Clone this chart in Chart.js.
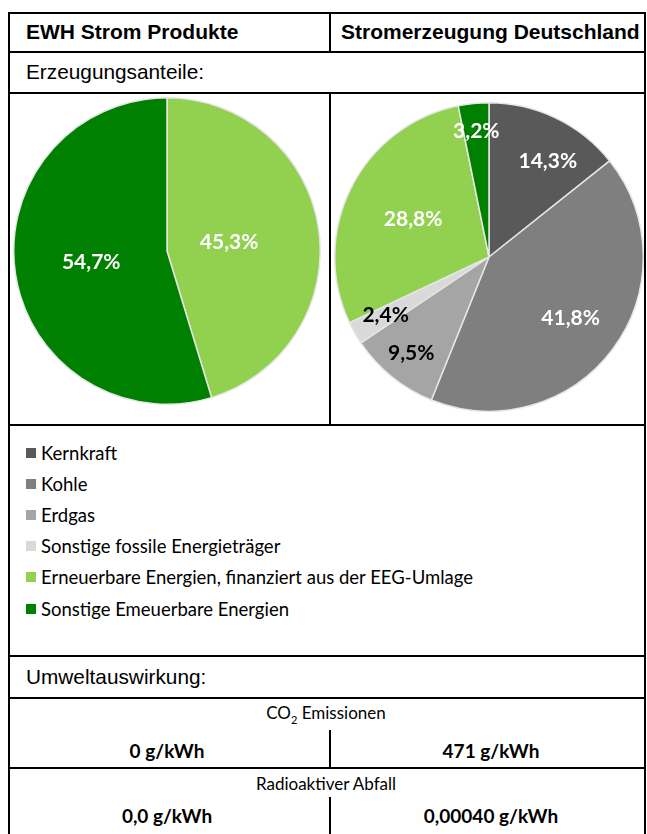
<!DOCTYPE html>
<html>
<head>
<meta charset="utf-8">
<script src="https://cdn.jsdelivr.net/npm/chart.js@4"></script>
<style>
  body { margin: 0; background: #fff; width: 647px; height: 834px; overflow: hidden; position: relative; }
  .ln { position: absolute; background: #000; }
  .t { position: absolute; white-space: nowrap; color: #000; }
  .hd { font: bold 21px "Liberation Sans", Arial, sans-serif; }
  .lab { font: 20.8px "Liberation Sans", Arial, sans-serif; }
  .cal { font: 17px Lato, "Open Sans", sans-serif; }
  .calb { font: bold 19px Lato, "Open Sans", sans-serif; }
  .ctr { transform: translate(-50%, -50%); }
  .mid { transform: translateY(-50%); }
  #legend { position: absolute; left: 26px; top: 437px; font: 18.5px Lato, "Open Sans", sans-serif; }
  #legend div { height: 31.2px; display: flex; align-items: center; }
  #legend span.box { display: inline-block; width: 10px; height: 10px; margin-right: 5px; }
  canvas { position: absolute; }
</style>
</head>
<body>
<!-- Rahmen -->
<div class="ln" style="left:8px;top:12px;width:2px;height:830px"></div>
<div class="ln" style="left:644px;top:12px;width:2px;height:830px"></div>
<div class="ln" style="left:8px;top:12px;width:638px;height:2px"></div>
<div class="ln" style="left:8px;top:51px;width:638px;height:2px"></div>
<div class="ln" style="left:8px;top:92px;width:638px;height:2px"></div>
<div class="ln" style="left:8px;top:424px;width:638px;height:2px"></div>
<div class="ln" style="left:8px;top:655px;width:638px;height:2px"></div>
<div class="ln" style="left:8px;top:697px;width:638px;height:2px"></div>
<div class="ln" style="left:8px;top:767px;width:638px;height:2px"></div>
<div class="ln" style="left:329px;top:12px;width:2px;height:40px"></div>
<div class="ln" style="left:329px;top:92px;width:2px;height:333px"></div>
<div class="ln" style="left:329px;top:730px;width:2px;height:38px"></div>
<div class="ln" style="left:329px;top:797px;width:2px;height:40px"></div>

<div class="t hd mid" style="left:26px;top:32px">EWH Strom Produkte</div>
<div class="t hd mid" style="left:341px;top:32px">Stromerzeugung Deutschland</div>
<div class="t lab mid" style="left:26px;top:72px">Erzeugungsanteile:</div>

<canvas id="ewh" width="308" height="308" style="left:13px;top:97px;width:308px;height:308px"></canvas>
<canvas id="de" width="310" height="310" style="left:334px;top:102px;width:310px;height:310px"></canvas>

<div id="legend"></div>

<div class="t lab mid" style="left:26px;top:677px">Umweltauswirkung:</div>
<div class="t cal ctr" style="left:326px;top:714px">CO<sub style="font-size:11px">2</sub> Emissionen</div>
<div class="t calb ctr" style="left:167px;top:750px">0 g/kWh</div>
<div class="t calb ctr" style="left:491px;top:750px">471 g/kWh</div>
<div class="t cal ctr" style="left:326px;top:783px">Radioaktiver Abfall</div>
<div class="t calb ctr" style="left:167px;top:815px">0,0 g/kWh</div>
<div class="t calb ctr" style="left:491px;top:815px">0,00040 g/kWh</div>

<script>
// Stromerzeugung Deutschland
const deCategories = ["Kernkraft", "Kohle", "Erdgas", "Sonstige fossile Energieträger",
    "Erneuerbare Energien, finanziert aus der EEG-Umlage", "Sonstige Emeuerbare Energien"];
const deValues = [14.3, 41.8, 9.5, 2.4, 28.8, 3.2];
const deColors = ["#595959", "#7f7f7f", "#a5a5a5", "#d9d9d9", "#92d050", "#008000"];
const deLabelColors = ["#fff", "#fff", "#000", "#000", "#fff", "#fff"];

// EWH Strom Produkte
const ewhCategories = ["Erneuerbare Energien, finanziert aus der EEG-Umlage", "Sonstige Emeuerbare Energien"];
const ewhValues = [45.3, 54.7];
const ewhColors = ["#92d050", "#008000"];
const ewhLabelColors = ["#fff", "#fff"];

// Prozentwerte in die Tortenstücke schreiben
const sliceLabels = {
    id: "sliceLabels",
    afterDatasetsDraw(chart, args, opts) {
        const ctx = chart.ctx;
        const ds = chart.data.datasets[0];
        chart.getDatasetMeta(0).data.forEach((arc, i) => {
            const p = arc.getProps(["x", "y", "startAngle", "endAngle", "outerRadius"], true);
            const a = (p.startAngle + p.endAngle) / 2 + (opts.shift ? opts.shift[i] : 0);
            const r = p.outerRadius * opts.radius[i];
            ctx.save();
            ctx.font = "bold 21px Lato, 'Open Sans', sans-serif";
            ctx.fillStyle = opts.colors[i];
            ctx.textAlign = "center";
            ctx.textBaseline = "middle";
            ctx.fillText(ds.data[i].toFixed(1).replace(".", ",") + "%", p.x + Math.cos(a) * r, p.y + Math.sin(a) * r);
            ctx.restore();
        });
    }
};

function makePie(id, labels, values, colors, labelColors, radius, shift) {
    return new Chart(document.getElementById(id), {
        type: "pie",
        data: {
            labels: labels,
            datasets: [{
                data: values,
                backgroundColor: colors,
                borderColor: "#e6e6e6",
                borderWidth: 1.5
            }]
        },
        options: {
            responsive: false,
            animation: false,
            layout: { padding: 0 },
            plugins: {
                legend: { display: false },
                tooltip: { enabled: false },
                sliceLabels: { colors: labelColors, radius: radius, shift: shift }
            }
        },
        plugins: [sliceLabels]
    });
}

makePie("ewh", ewhCategories, ewhValues, ewhColors, ewhLabelColors, [0.41, 0.5]);
// Excel "beste Anpassung": Beschriftungen leicht versetzt (Bogenmaß)
const deChart = makePie("de", deCategories, deValues, deColors, deLabelColors,
    [0.73, 0.66, 0.8, 0.77, 0.55, 0.82], [0.1, 0, 0, 0, 0, 0]);

// Legende unter beiden Diagrammen, aus den Legendeneinträgen des Deutschland-Diagramms
const legendEl = document.getElementById("legend");
deChart.options.plugins.legend.labels.generateLabels(deChart).forEach(item => {
    const row = document.createElement("div");
    const box = document.createElement("span");
    box.className = "box";
    box.style.background = item.fillStyle;
    row.appendChild(box);
    row.appendChild(document.createTextNode(item.text));
    legendEl.appendChild(row);
});
</script>
</body>
</html>
